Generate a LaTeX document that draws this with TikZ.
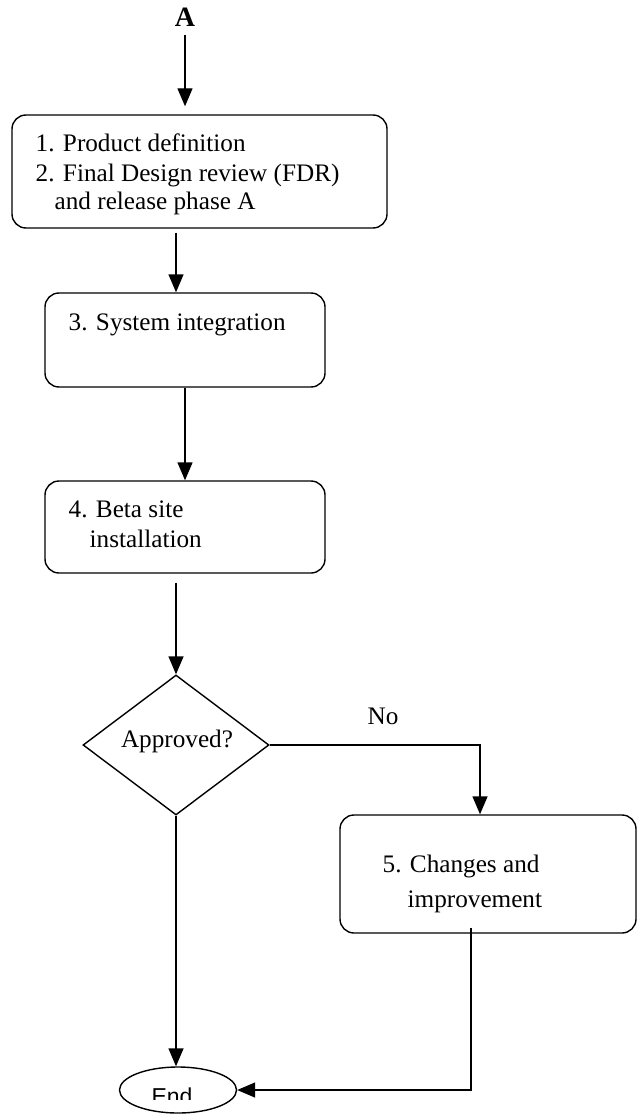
\documentclass[tikz,border=0pt]{standalone}
\usepackage{fontspec}
\setmainfont{Liberation Serif}
\newfontfamily\arialfont{Liberation Sans}
\usetikzlibrary{arrows.meta,shapes.geometric}
\begin{document}
\begin{tikzpicture}[x=1pt,y=-1pt,
  line width=1.4pt,
  arr/.style={-{Triangle[length=18pt,width=15pt]}},
  boxst/.style={draw,rounded corners=14pt,inner sep=0pt},
  txt/.style={anchor=base west,inner sep=0pt,font=\fontsize{25.2pt}{29pt}\selectfont},
  dec/.style={draw,diamond,inner sep=0pt,minimum width=186pt,minimum height=140pt},
  term/.style={draw,ellipse,inner sep=0pt,minimum width=117pt,minimum height=46pt}]
\useasboundingbox (0,0) rectangle (637,1115);

% start label
\node[anchor=base,inner sep=0pt,font=\fontsize{28pt}{32pt}\selectfont\bfseries] (A) at (185,27) {A};

% boxes
\node[boxst,minimum width=375pt,minimum height=113pt] (b1) at (199.5,171.5) {};
\node[boxst,minimum width=280pt,minimum height=94pt] (b2) at (185,340) {};
\node[boxst,minimum width=280pt,minimum height=92pt] (b3) at (185,527) {};
\node[boxst,minimum width=296pt,minimum height=118pt] (b5) at (488,874) {};

% decision and terminal
\node[dec] (d) at (176,745) {};
\node[term] (e) at (178,1090) {};

% texts
\node[txt] (t1) at (35,152) {1. Product definition};
\node[txt] (t2) at (35,182) {2. Final Design review (FDR)};
\node[txt] (t3) at (54,210) {and release phase A};
\node[txt] (t4) at (68,330) {3. System integration};
\node[txt] (t5) at (68,517) {4. Beta site};
\node[txt] (t6) at (89,547) {installation};
\node[txt,anchor=base] (t7) at (177,747) {Approved?};
\node[txt] (t8) at (367,724) {No};
\node[txt] (t9) at (382,872) {5. Changes and};
\node[txt] (t10) at (407,907) {improvement};
\begin{scope}
\clip (100,1060) rectangle (260,1099);
\node[anchor=base,inner sep=0pt,font=\arialfont\fontsize{23pt}{27pt}\selectfont] (t11) at (172,1104) {End};
\end{scope}

% helper coordinates
\coordinate (x185) at (185,0);
\coordinate (x176) at (176,0);
\coordinate (x480) at (480,0);
\coordinate (x471) at (471,0);

% connectors
\draw[arr,shorten >=8pt] (A.south |- 0,35) -- (b1.north -| x185);
\draw[arr] (b1.south -| x176) ++(0,4) -- (b2.north -| x176);
\draw[arr] (b2.south -| x185) -- (b3.north -| x185);
\draw[arr] (b3.south -| x176) ++(0,9) -- (d.north);
\draw[arr] (d.east) -| (b5.north -| x480);
\draw[arr] (d.south) -- (d.south |- e.north);
\draw[arr] (b5.south -| x471) ++(0,-6) |- (e.east);
\end{tikzpicture}
\end{document}
